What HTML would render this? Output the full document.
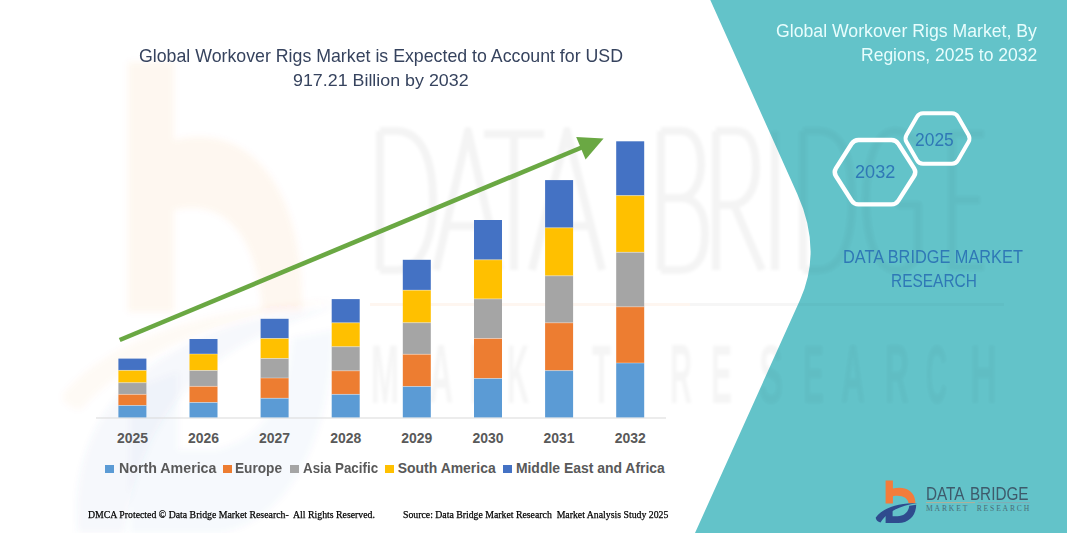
<!DOCTYPE html>
<html><head><meta charset="utf-8">
<style>
html,body{margin:0;padding:0;}
body{width:1067px;height:533px;overflow:hidden;position:relative;background:#fff;font-family:"Liberation Sans",sans-serif;}
.abs{position:absolute;white-space:nowrap;}
.tx{position:absolute;white-space:nowrap;line-height:1;transform-origin:0 0;}
.yr{position:absolute;top:431.9px;font-size:13.95px;line-height:1;font-weight:bold;color:#595959;width:60px;text-align:center;}
.lg{position:absolute;top:461.8px;font-size:13.95px;line-height:1;font-weight:bold;color:#595959;white-space:nowrap;transform-origin:0 0;}
.sq{position:absolute;top:464.8px;width:8.7px;height:8.6px;}
.ft{position:absolute;top:509.2px;font-family:"Liberation Serif",serif;font-size:10.84px;line-height:1;color:#000;-webkit-text-stroke:0.25px #000;white-space:nowrap;transform-origin:0 0;}
</style></head>
<body>
<svg class="abs" style="left:0;top:0" width="1067" height="533" viewBox="0 0 1067 533">
  <defs><filter id="bl2" x="-20%" y="-20%" width="140%" height="140%"><feGaussianBlur stdDeviation="1.6"/></filter><filter id="bl3" x="-20%" y="-20%" width="140%" height="140%"><feGaussianBlur stdDeviation="3"/></filter><clipPath id="tc"><path d="M710.3 0 L797.3 194 Q822.5 250 800 300 L695 533 L1067 533 L1067 0 Z"/></clipPath></defs>
  <g id="wm"><g fill="none" stroke="rgba(0,0,0,0.042)" stroke-width="8" stroke-linejoin="round" filter="url(#bl2)">
    <path d="M380 131 L380 270 M380 131 L396 131 C424 131 433 165 433 200 C433 238 422 270 396 270 L380 270"/>
    <path d="M436 270 L468 131 L500 270 M447 226 L489 226"/>
    <path d="M484 134 L544 134 M514 134 L514 270"/>
    <path d="M532 270 L567 131 L602 270 M543 226 L591 226"/>
    <path d="M661 131 L661 270 M661 131 L681 131 C697 131 701 150 701 165 C701 184 692 198 680 198 L661 198 M680 198 C699 198 705 215 705 234 C705 258 696 270 680 270 L661 270"/>
    <path d="M716 131 L716 270 M716 131 L736 131 C752 131 756 150 756 168 C756 190 746 205 731 205 L716 205 M734 205 L762 270"/>
    <path d="M775 131 L775 270"/>
    <path d="M803 131 L803 270 M803 131 L818 131 C845 131 852 165 852 200 C852 238 843 270 818 270 L803 270"/>
    <path d="M918 145 C910 134 903 131 895 131 C875 131 866 165 866 200 C866 240 877 270 896 270 C908 270 915 262 918 254 L918 205 L897 205"/>
    <path d="M952 131 L952 270 M952 134 L984 134 M952 200 L980 200 M952 267 L984 267"/>
  </g>
  <line x1="370" y1="304.5" x2="690" y2="304.5" stroke="rgba(237,125,49,0.07)" stroke-width="3"/>
  <line x1="690" y1="304.5" x2="1004" y2="304.5" stroke="rgba(0,0,0,0.035)" stroke-width="3"/>
  <g font-family="Liberation Sans" font-weight="bold" font-size="84" fill="rgba(0,0,0,0.04)" filter="url(#bl2)"><text x="371" y="403" textLength="28" lengthAdjust="spacingAndGlyphs">M</text><text x="429" y="403" textLength="24" lengthAdjust="spacingAndGlyphs">A</text><text x="470" y="403" textLength="22" lengthAdjust="spacingAndGlyphs">R</text><text x="507" y="403" textLength="22" lengthAdjust="spacingAndGlyphs">K</text><text x="550" y="403" textLength="20" lengthAdjust="spacingAndGlyphs">E</text><text x="592" y="403" textLength="19" lengthAdjust="spacingAndGlyphs">T</text><text x="670" y="403" textLength="22" lengthAdjust="spacingAndGlyphs">R</text><text x="711" y="403" textLength="21" lengthAdjust="spacingAndGlyphs">E</text><text x="759" y="403" textLength="24" lengthAdjust="spacingAndGlyphs">S</text><text x="803" y="403" textLength="21" lengthAdjust="spacingAndGlyphs">E</text><text x="841" y="403" textLength="24" lengthAdjust="spacingAndGlyphs">A</text><text x="885" y="403" textLength="24" lengthAdjust="spacingAndGlyphs">R</text><text x="926" y="403" textLength="21" lengthAdjust="spacingAndGlyphs">C</text><text x="970" y="403" textLength="27" lengthAdjust="spacingAndGlyphs">H</text></g>
  </g>
  <path d="M710.3 0 L797.3 194 Q822.5 250 800 300 L695 533 L1067 533 L1067 0 Z" fill="#63c3c9"/>
  <g clip-path="url(#tc)" opacity="0.75"><use href="#wm"/></g>
  <!-- watermark b logo -->
  <g filter="url(#bl3)">
  <path d="M128 62 L174 62 L174 140 C245 122 300 180 302 295 L302 312 L262 312 C258 240 228 198 174 210 L174 312 L128 312 Z" fill="rgba(240,115,55,0.06)"/>
  <path d="M62 395 C110 335 220 305 340 300 C230 318 140 345 80 410 C70 408 62 402 62 395 Z" fill="rgba(237,125,49,0.04)"/>
  <path d="M78 533 C70 440 115 355 260 318 L340 306 C230 335 145 390 124 533 Z" fill="rgba(68,114,196,0.05)"/>
  <path d="M130 390 L130 533 L220 533 C290 520 330 440 334 330 L292 338 C288 400 262 440 215 450 L178 450 L178 372 Z" fill="rgba(68,114,196,0.035)"/>
  </g>

  <!-- axis -->
  <line x1="96" y1="418" x2="666" y2="418" stroke="#d9d9d9" stroke-width="1"/>
  <!-- bars -->
  <g id="bars"><rect x="118.4" y="358.6" width="28" height="11.8" fill="#4472c4"/><rect x="118.4" y="370.4" width="28" height="12.3" fill="#ffc000"/><rect x="118.4" y="382.7" width="28" height="11.7" fill="#a5a5a5"/><rect x="118.4" y="394.4" width="28" height="11.1" fill="#ed7d31"/><rect x="118.4" y="405.5" width="28" height="11.9" fill="#5b9bd5"/><rect x="118.4" y="369.9" width="28" height="1" fill="rgba(255,255,255,0.35)"/><rect x="118.4" y="382.2" width="28" height="1" fill="rgba(255,255,255,0.35)"/><rect x="118.4" y="393.9" width="28" height="1" fill="rgba(255,255,255,0.35)"/><rect x="118.4" y="405.0" width="28" height="1" fill="rgba(255,255,255,0.35)"/><rect x="189.5" y="339.0" width="28" height="15.0" fill="#4472c4"/><rect x="189.5" y="354.0" width="28" height="16.5" fill="#ffc000"/><rect x="189.5" y="370.5" width="28" height="15.9" fill="#a5a5a5"/><rect x="189.5" y="386.4" width="28" height="16.1" fill="#ed7d31"/><rect x="189.5" y="402.5" width="28" height="14.9" fill="#5b9bd5"/><rect x="189.5" y="353.5" width="28" height="1" fill="rgba(255,255,255,0.35)"/><rect x="189.5" y="370.0" width="28" height="1" fill="rgba(255,255,255,0.35)"/><rect x="189.5" y="385.9" width="28" height="1" fill="rgba(255,255,255,0.35)"/><rect x="189.5" y="402.0" width="28" height="1" fill="rgba(255,255,255,0.35)"/><rect x="260.6" y="318.8" width="28" height="19.7" fill="#4472c4"/><rect x="260.6" y="338.5" width="28" height="20.0" fill="#ffc000"/><rect x="260.6" y="358.5" width="28" height="19.5" fill="#a5a5a5"/><rect x="260.6" y="378.0" width="28" height="20.3" fill="#ed7d31"/><rect x="260.6" y="398.3" width="28" height="19.1" fill="#5b9bd5"/><rect x="260.6" y="338.0" width="28" height="1" fill="rgba(255,255,255,0.35)"/><rect x="260.6" y="358.0" width="28" height="1" fill="rgba(255,255,255,0.35)"/><rect x="260.6" y="377.5" width="28" height="1" fill="rgba(255,255,255,0.35)"/><rect x="260.6" y="397.8" width="28" height="1" fill="rgba(255,255,255,0.35)"/><rect x="331.7" y="299.1" width="28" height="23.7" fill="#4472c4"/><rect x="331.7" y="322.8" width="28" height="23.9" fill="#ffc000"/><rect x="331.7" y="346.7" width="28" height="24.1" fill="#a5a5a5"/><rect x="331.7" y="370.8" width="28" height="23.6" fill="#ed7d31"/><rect x="331.7" y="394.4" width="28" height="23.0" fill="#5b9bd5"/><rect x="331.7" y="322.3" width="28" height="1" fill="rgba(255,255,255,0.35)"/><rect x="331.7" y="346.2" width="28" height="1" fill="rgba(255,255,255,0.35)"/><rect x="331.7" y="370.3" width="28" height="1" fill="rgba(255,255,255,0.35)"/><rect x="331.7" y="393.9" width="28" height="1" fill="rgba(255,255,255,0.35)"/><rect x="402.8" y="259.8" width="28" height="30.4" fill="#4472c4"/><rect x="402.8" y="290.2" width="28" height="32.5" fill="#ffc000"/><rect x="402.8" y="322.7" width="28" height="31.6" fill="#a5a5a5"/><rect x="402.8" y="354.3" width="28" height="32.2" fill="#ed7d31"/><rect x="402.8" y="386.5" width="28" height="30.9" fill="#5b9bd5"/><rect x="402.8" y="289.7" width="28" height="1" fill="rgba(255,255,255,0.35)"/><rect x="402.8" y="322.2" width="28" height="1" fill="rgba(255,255,255,0.35)"/><rect x="402.8" y="353.8" width="28" height="1" fill="rgba(255,255,255,0.35)"/><rect x="402.8" y="386.0" width="28" height="1" fill="rgba(255,255,255,0.35)"/><rect x="474.0" y="220.0" width="28" height="39.8" fill="#4472c4"/><rect x="474.0" y="259.8" width="28" height="39.1" fill="#ffc000"/><rect x="474.0" y="298.9" width="28" height="39.6" fill="#a5a5a5"/><rect x="474.0" y="338.5" width="28" height="40.0" fill="#ed7d31"/><rect x="474.0" y="378.5" width="28" height="38.9" fill="#5b9bd5"/><rect x="474.0" y="259.3" width="28" height="1" fill="rgba(255,255,255,0.35)"/><rect x="474.0" y="298.4" width="28" height="1" fill="rgba(255,255,255,0.35)"/><rect x="474.0" y="338.0" width="28" height="1" fill="rgba(255,255,255,0.35)"/><rect x="474.0" y="378.0" width="28" height="1" fill="rgba(255,255,255,0.35)"/><rect x="545.1" y="180.1" width="28" height="47.7" fill="#4472c4"/><rect x="545.1" y="227.8" width="28" height="48.0" fill="#ffc000"/><rect x="545.1" y="275.8" width="28" height="47.0" fill="#a5a5a5"/><rect x="545.1" y="322.8" width="28" height="47.8" fill="#ed7d31"/><rect x="545.1" y="370.6" width="28" height="46.8" fill="#5b9bd5"/><rect x="545.1" y="227.3" width="28" height="1" fill="rgba(255,255,255,0.35)"/><rect x="545.1" y="275.3" width="28" height="1" fill="rgba(255,255,255,0.35)"/><rect x="545.1" y="322.3" width="28" height="1" fill="rgba(255,255,255,0.35)"/><rect x="545.1" y="370.1" width="28" height="1" fill="rgba(255,255,255,0.35)"/><rect x="616.2" y="141.3" width="28" height="54.3" fill="#4472c4"/><rect x="616.2" y="195.6" width="28" height="56.7" fill="#ffc000"/><rect x="616.2" y="252.3" width="28" height="54.5" fill="#a5a5a5"/><rect x="616.2" y="306.8" width="28" height="56.2" fill="#ed7d31"/><rect x="616.2" y="363.0" width="28" height="54.4" fill="#5b9bd5"/><rect x="616.2" y="195.1" width="28" height="1" fill="rgba(255,255,255,0.35)"/><rect x="616.2" y="251.8" width="28" height="1" fill="rgba(255,255,255,0.35)"/><rect x="616.2" y="306.3" width="28" height="1" fill="rgba(255,255,255,0.35)"/><rect x="616.2" y="362.5" width="28" height="1" fill="rgba(255,255,255,0.35)"/></g>
  <!-- arrow -->
  <line x1="119.7" y1="340" x2="584" y2="146.5" stroke="#6aa843" stroke-width="4.6"/>
  <polygon points="603.6,138.6 576.2,136.9 585.6,159.4" fill="#6aa843"/>
  <!-- hexagons -->
  <path d="M835.9 176.0 Q833.5 172.2 835.9 168.4 L851.6 143.8 Q854.0 140.0 858.5 140.0 L891.5 140.0 Q896.0 140.0 898.4 143.8 L914.1 168.4 Q916.5 172.2 914.1 176.0 L898.4 200.6 Q896.0 204.4 891.5 204.4 L858.5 204.4 Q854.0 204.4 851.6 200.6 Z" fill="none" stroke="#fff" stroke-width="4.4"/>
  <path d="M906.5 142.0 Q904.5 138.5 906.5 135.0 L917.0 116.7 Q919.0 113.2 923.0 113.2 L952.0 113.2 Q956.0 113.2 958.0 116.7 L968.5 135.0 Q970.5 138.5 968.5 142.0 L958.0 160.3 Q956.0 163.8 952.0 163.8 L923.0 163.8 Q919.0 163.8 917.0 160.3 Z" fill="none" stroke="#fff" stroke-width="4"/>
</svg>
<div id="t1" class="tx" style="left:138.8px;top:46.9px;font-size:18.31px;transform:scaleX(0.970);color:#36435e">Global Workover Rigs Market is Expected to Account for USD</div>
<div id="t2" class="tx" style="left:292.7px;top:72.1px;font-size:17.15px;transform:scaleX(1.041);color:#36435e">917.21 Billion by 2032</div>

<div class="yr" style="left:102.4px">2025</div>
<div class="yr" style="left:173.5px">2026</div>
<div class="yr" style="left:244.6px">2027</div>
<div class="yr" style="left:315.7px">2028</div>
<div class="yr" style="left:386.8px">2029</div>
<div class="yr" style="left:457.9px">2030</div>
<div class="yr" style="left:529.1px">2031</div>
<div class="yr" style="left:600.2px">2032</div>

<div class="sq" style="left:105px;background:#5b9bd5"></div>
<div id="l1" class="lg" style="left:118.9px;transform:scaleX(1.02)">North America</div>
<div class="sq" style="left:222.9px;background:#ed7d31"></div>
<div id="l2" class="lg" style="left:234.6px;transform:scaleX(0.98)">Europe</div>
<div class="sq" style="left:290.2px;background:#a5a5a5"></div>
<div id="l3" class="lg" style="left:303.4px;transform:scaleX(0.96)">Asia Pacific</div>
<div class="sq" style="left:385px;background:#ffc000"></div>
<div id="l4" class="lg" style="left:397.8px">South America</div>
<div class="sq" style="left:503.1px;background:#4472c4"></div>
<div id="l5" class="lg" style="left:515.9px">Middle East and Africa</div>

<div id="f1" class="ft" style="left:87.9px;transform:scaleX(0.905)">DMCA Protected © Data Bridge Market Research-&nbsp; All Rights Reserved.</div>
<div id="f2" class="ft" style="left:402.7px;transform:scaleX(0.903)">Source: Data Bridge Market Research&nbsp; Market Analysis Study 2025</div>

<div id="h1" class="tx" style="left:776.2px;top:21.5px;font-size:18.31px;transform:scaleX(0.966);color:#e8fdfd">Global Workover Rigs Market, By</div>
<div id="h2" class="tx" style="left:861px;top:45.9px;font-size:18.31px;transform:scaleX(0.957);color:#e8fdfd">Regions, 2025 to 2032</div>

<div id="y32" class="tx" style="left:854.9px;top:164.2px;font-size:17.59px;transform:scaleX(1.03);color:#2f78b6">2032</div>
<div id="y25" class="tx" style="left:914.6px;top:130.9px;font-size:18.17px;transform:scaleX(0.96);color:#2f78b6">2025</div>

<div id="d1" class="tx" style="left:843px;top:248.2px;font-size:18.31px;transform:scaleX(0.892);color:#2f78b6">DATA BRIDGE MARKET</div>
<div id="d2" class="tx" style="left:891.2px;top:272.5px;font-size:17.73px;transform:scaleX(0.872);color:#2f78b6">RESEARCH</div>

<svg class="abs" style="left:0;top:0" width="1067" height="533" viewBox="0 0 1067 533">
  <path d="M885.6 480.4 L892.9 480.4 L892.9 488.6 C902 485.8 914.5 489 915.3 501.5 L915.3 503.2 L908.6 503.2 C908 498 902 494.6 892.9 496.2 L892.9 503.5 L885.6 503.5 Z" fill="#f37c3b"/>
  <path d="M875.8 517.5 C882 508 898 503.2 917.5 503 C900 505.8 888 511 880.5 522.5 C877.5 521.5 875.5 519.5 875.8 517.5 Z" fill="#2f4b8e"/>
  <path d="M885.6 511.2 L885.6 523 L898.5 523 C909 523 916 515.5 916.2 504.8 L909.3 505.8 C908.5 512 904 516.2 897.5 516.2 L892.6 516.2 L892.6 508.6 Z" fill="#2f4b8e"/>
  <line x1="926" y1="502.6" x2="975" y2="502.6" stroke="#c9a98a" stroke-width="0.8"/>
  <line x1="978" y1="502.6" x2="1030" y2="502.6" stroke="#8aa6ad" stroke-width="0.8"/>
</svg>
<div id="lg1" class="tx" style="left:925.9px;top:485.3px;font-size:18.75px;transform:scaleX(0.815);word-spacing:2.5px;color:#3e5a6b">DATA BRIDGE</div>
<div id="lg2" class="tx" style="left:926px;top:505px;font-size:7.6px;font-family:'Liberation Serif',serif;letter-spacing:1.85px;color:#4a6e78">MARKET&nbsp;&nbsp;RESEARCH</div>
</body></html>
